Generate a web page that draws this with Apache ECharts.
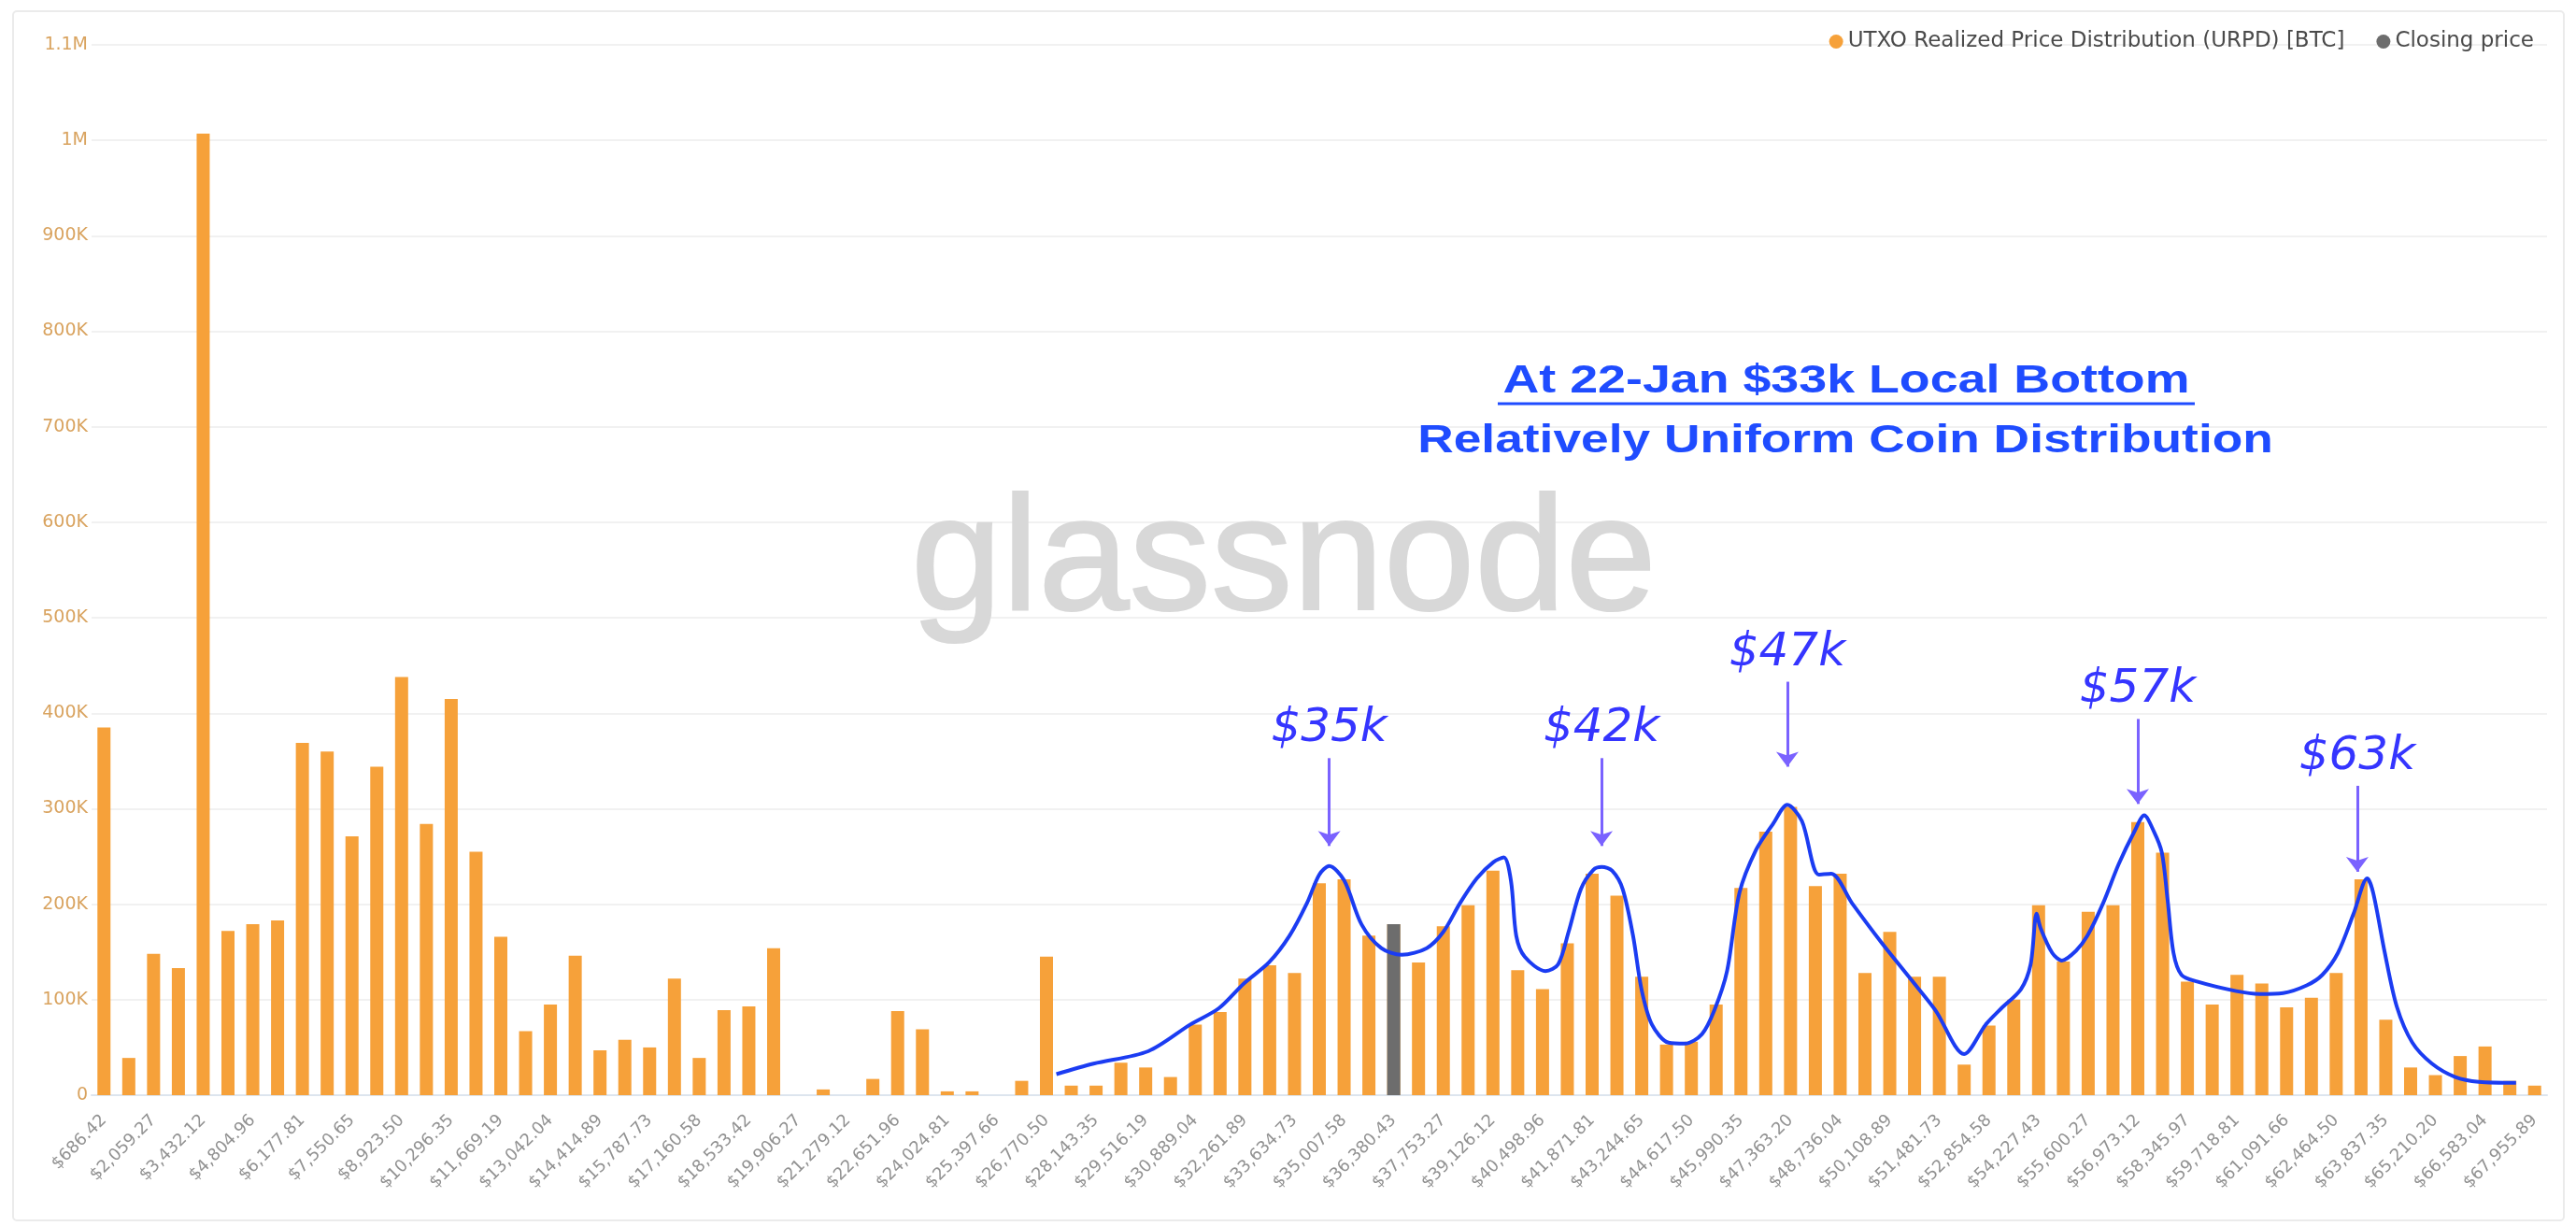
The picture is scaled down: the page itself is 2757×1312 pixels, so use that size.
<!DOCTYPE html>
<html>
<head>
<meta charset="utf-8">
<script src="https://cdn.jsdelivr.net/npm/echarts@6/dist/echarts.min.js"></script>
<style>
  html, body { margin: 0; padding: 0; background: #fff; }
  #chart { width: 2757px; height: 1312px; }
</style>
</head>
<body>
<div id="chart"></div>
<script>
// tick labels shown under every other bucket
const tickLabels = [
  '$686.42', '$2,059.27', '$3,432.12', '$4,804.96', '$6,177.81', '$7,550.65', '$8,923.50', '$10,296.35',
  '$11,669.19', '$13,042.04', '$14,414.89', '$15,787.73', '$17,160.58', '$18,533.42', '$19,906.27',
  '$21,279.12', '$22,651.96', '$24,024.81', '$25,397.66', '$26,770.50', '$28,143.35', '$29,516.19',
  '$30,889.04', '$32,261.89', '$33,634.73', '$35,007.58', '$36,380.43', '$37,753.27', '$39,126.12',
  '$40,498.96', '$41,871.81', '$43,244.65', '$44,617.50', '$45,990.35', '$47,363.20', '$48,736.04',
  '$50,108.89', '$51,481.73', '$52,854.58', '$54,227.43', '$55,600.27', '$56,973.12', '$58,345.97',
  '$59,718.81', '$61,091.66', '$62,464.50', '$63,837.35', '$65,210.20', '$66,583.04', '$67,955.89'
]

// URPD per price bucket, thousands of BTC
const urpd = [
  385, 39, 148, 133, 1007, 172, 179, 183, 369, 360,
  271, 344, 438, 284, 415, 255, 166, 67, 95, 146,
  47, 58, 50, 122, 39, 89, 93, 154, 0, 6,
  0, 17, 88, 69, 4, 4, 0, 15, 145, 10,
  10, 34, 29, 19, 74, 87, 122, 136, 128, 222,
  226, 167, 179, 139, 177, 199, 235, 131, 111, 159,
  232, 209, 124, 53, 56, 95, 217, 276, 302, 219,
  232, 128, 171, 124, 124, 32, 73, 100, 199, 140,
  192, 199, 286, 254, 119, 95, 126, 117, 92, 102,
  128, 226, 79, 29, 21, 41, 51, 15, 10
]

// bucket holding the closing price
const closeIdx = 52

// hand drawn envelope (bucket position, thousands of BTC)
const curveIdx = [
  38.4, 39.9, 42.1, 43.8, 44.95, 45.96, 46.97, 47.8, 48.5, 49.0, 49.4, 50.0, 50.7, 51.5,
  52.32, 53.33, 54.0, 54.67, 55.35, 56.02, 56.44, 56.73, 56.94, 57.28, 58.12, 58.63, 59.05,
  59.55, 60.05, 60.39, 60.81, 61.23, 61.65, 61.99, 62.41, 63.08, 63.75, 64.43, 64.93, 65.44,
  65.94, 66.61, 67.29, 67.87, 68.46, 69.14, 69.64, 70.48, 71.66, 72.83, 73.84, 75.0,
  75.87, 76.5, 77.29, 77.68, 77.92, 78.08, 78.55, 78.94, 79.5, 79.97, 80.6, 81.23, 81.86,
  82.26, 82.65, 82.97, 83.2, 83.44, 83.76, 84.39, 85.97, 86.91, 87.86, 88.81, 89.44, 90.07,
  90.7, 91.25, 91.49, 91.96, 92.44, 93.07, 93.86, 94.8, 95.75, 97.25
]
const curveVal = [
  22, 33, 46, 74, 91, 117, 139, 167, 201, 231, 240, 225, 179, 154,
  147, 154, 171, 201, 227, 244, 249, 224, 167, 145, 130, 137, 171,
  216, 236, 239, 235, 216, 167, 111, 74, 55, 54, 64, 89, 130,
  212, 257, 284, 304, 287, 231, 232, 201, 160, 122, 89, 43,
  74, 91, 111, 137, 190, 175, 149, 141, 151, 167, 201, 242, 276,
  293, 276, 254, 205, 149, 126, 119, 109, 106, 107, 115, 126, 149,
  190, 227, 212, 149, 93, 55, 33, 19, 14, 13
]

// peak call-outs: label, bucket position, arrow top / tip (thousands of BTC)
const noteText = ['$35k', '$42k', '$47k', '$57k', '$63k']
const noteIdx = [49.4, 60.38, 67.87, 82.0, 90.85]
const noteTop = [353, 353, 433, 394, 324]
const noteTip = [261, 261, 344, 305, 234]

const URPD_NAME = 'UTXO Realized Price Distribution (URPD) [BTC]'
const categories = urpd.map((_, i) => (i % 2 === 0 ? tickLabels[i / 2] : ''))

function fmtY(v) {
  if (v === 0) return '0'
  if (v >= 1e6) return (v / 1e6) + 'M'
  return (v / 1e3) + 'K'
}

const chart = echarts.init(document.getElementById('chart'))
chart.setOption({
  animation: false,
  backgroundColor: '#ffffff',
  grid: { left: 98, right: 31, top: 48, bottom: 140 },
  legend: {
    data: [{ name: URPD_NAME, icon: 'circle' }, { name: 'Closing price', icon: 'circle' }],
    right: 40,
    top: 28,
    itemWidth: 15,
    itemHeight: 15,
    itemGap: 34,
    textStyle: { fontSize: 23, color: '#4a4a4a', fontFamily: 'DejaVu Sans' }
  },
  xAxis: [
    {
      type: 'category',
      data: categories,
      axisTick: { show: false },
      axisLine: { lineStyle: { color: '#dde5ee', width: 2 } },
      axisLabel: { rotate: 45, interval: 0, margin: 24, fontSize: 18, fontFamily: 'DejaVu Sans', color: '#929292' }
    },
    { type: 'value', min: -0.5, max: 98.5, show: false }
  ],
  yAxis: {
    type: 'value',
    min: 0,
    max: 1100000,
    interval: 100000,
    axisLine: { show: false },
    axisTick: { show: false },
    axisLabel: { formatter: fmtY, color: '#d9a35f', fontSize: 19, fontFamily: 'DejaVu Sans', margin: 4 },
    splitLine: { lineStyle: { color: '#f1f1f1', width: 2 } }
  },
  series: [
    {
      name: URPD_NAME,
      type: 'bar',
      barWidth: 14,
      itemStyle: { color: '#f6a13a' },
      data: urpd.map(v => v * 1000)
    },
    {
      name: 'Closing price',
      type: 'bar',
      barWidth: 14,
      barGap: '-100%',
      itemStyle: { color: '#6d6d6d' },
      data: urpd.map((v, i) => (i === closeIdx ? v * 1000 : null))
    },
    {
      name: 'envelope',
      type: 'line',
      xAxisIndex: 1,
      smooth: 0.3,
      symbol: 'none',
      z: 5,
      lineStyle: { color: '#1b3cf2', width: 4 },
      data: curveIdx.map((x, i) => [x, curveVal[i] * 1000]),
      markLine: {
        silent: true,
        symbol: ['none', 'arrow'],
        symbolSize: [18, 16],
        lineStyle: { color: '#7a62ff', width: 3, type: 'solid' },
        label: {
          show: true,
          position: 'start',
          distance: 6,
          fontSize: 50,
          fontStyle: 'italic',
          fontFamily: 'DejaVu Sans',
          color: '#3535ff'
        },
        data: noteText.map((t, i) => [
          { coord: [noteIdx[i], noteTop[i] * 1000], label: { formatter: t } },
          { coord: [noteIdx[i], noteTip[i] * 1000] }
        ])
      }
    }
  ],
  graphic: [
    {
      type: 'rect',
      silent: true,
      shape: { x: 14, y: 12, width: 2730, height: 1294, r: 4 },
      style: { fill: 'none', stroke: '#ebebeb', lineWidth: 2 }
    },
    {
      type: 'text',
      silent: true,
      z: 1,
      x: 1374,
      y: 604,
      style: {
        text: 'glassnode',
        fill: '#d8d8d8',
        stroke: '#d8d8d8',
        lineWidth: 2,
        font: '175px "Liberation Sans", Arial',
        align: 'center',
        verticalAlign: 'middle'
      }
    },
    {
      type: 'text',
      silent: true,
      z: 10,
      x: 1976,
      y: 408,
      scaleX: 1.28,
      style: { text: 'At 22-Jan $33k Local Bottom', fill: '#1f4cff', font: 'bold 42px "Liberation Sans", Arial', align: 'center', verticalAlign: 'middle' }
    },
    {
      type: 'line',
      silent: true,
      z: 10,
      shape: { x1: 1603, y1: 432, x2: 2349, y2: 432 },
      style: { stroke: '#1f4cff', lineWidth: 3 }
    },
    {
      type: 'text',
      silent: true,
      z: 10,
      x: 1975,
      y: 472,
      scaleX: 1.27,
      style: { text: 'Relatively Uniform Coin Distribution', fill: '#1f4cff', font: 'bold 42px "Liberation Sans", Arial', align: 'center', verticalAlign: 'middle' }
    }
  ]
})
</script>
</body>
</html>
